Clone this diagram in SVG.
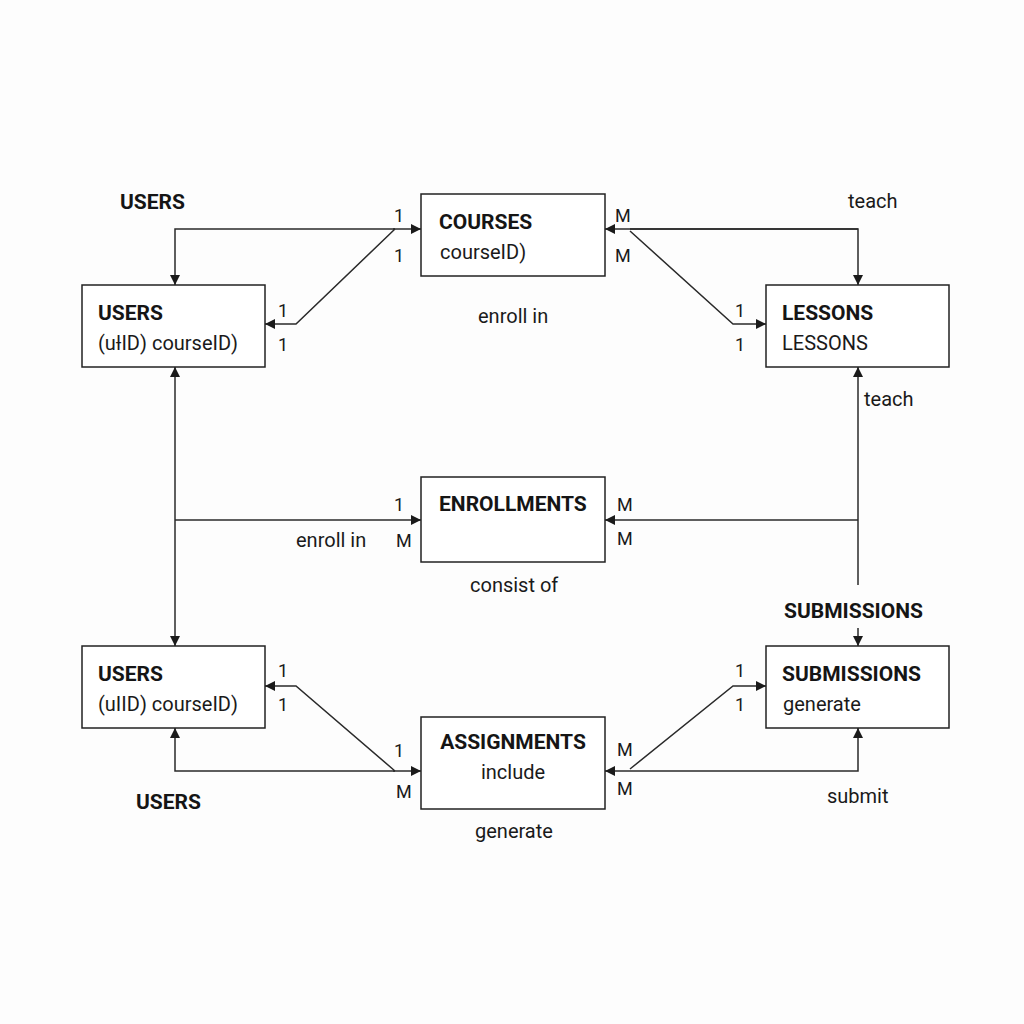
<svg xmlns="http://www.w3.org/2000/svg" width="1024" height="1024" viewBox="0 0 1024 1024">
<defs>
<marker id="ah" viewBox="0 0 10 10" refX="10" refY="5" markerWidth="10" markerHeight="10" markerUnits="userSpaceOnUse" orient="auto"><path d="M0,0 L10,5 L0,10 z" fill="#1a1a1a"/></marker>
<style>
.box{fill:#fff;stroke:#222;stroke-width:1.5}
.t{font-family:Roboto,"Liberation Sans",sans-serif;font-weight:bold;font-size:21px;fill:#151515}
.s{font-family:Roboto,"Liberation Sans",sans-serif;font-size:20px;fill:#1a1a1a}
.c{font-family:Roboto,"Liberation Sans",sans-serif;font-size:18px;fill:#1a1a1a}
.ln{fill:none;stroke:#2a2a2a;stroke-width:1.5}
.ar{fill:none;stroke:#2a2a2a;stroke-width:1.5;marker-end:url(#ah)}
</style>
</defs>
<rect width="1024" height="1024" fill="#fdfdfd"/>
<g id="connectors">
<path class="ar" d="M395,229 L175,229 L175,285"/>
<path class="ar" d="M393,229 L421,229"/>
<path class="ar" d="M395,229 L296,324 L265,324"/>
<path class="ar" d="M858,229 L605,229"/>
<path class="ar" d="M630,229 L858,229 L858,285"/>
<path class="ar" d="M630,231 L733,324 L766,324"/>
<path class="ar" d="M858,585 L858,367"/>
<path class="ar" d="M858,520 L605,520"/>
<path class="ar" d="M175,520 L175,367"/>
<path class="ar" d="M175,520 L175,646"/>
<path class="ar" d="M175,520 L421,520"/>
<path class="ar" d="M858,628 L858,646"/>
<path class="ar" d="M395,771 L175,771 L175,728"/>
<path class="ar" d="M393,771 L421,771"/>
<path class="ar" d="M395,771 L296,686 L265,686"/>
<path class="ar" d="M630,771 L605,771"/>
<path class="ar" d="M630,771 L858,771 L858,728"/>
<path class="ar" d="M630,769 L733,686 L766,686"/>
</g>
<g id="courses"><rect class="box" x="421" y="194" width="184" height="82"/><text class="t" x="439" y="229">COURSES</text><text class="s" x="440" y="259">courseID)</text></g>
<g id="users-top"><rect class="box" x="82" y="285" width="183" height="82"/><text class="t" x="98" y="320">USERS</text><text class="s" x="98" y="350">(uƗID) courseID)</text></g>
<g id="lessons"><rect class="box" x="766" y="285" width="183" height="82"/><text class="t" x="782" y="320">LESSONS</text><text class="s" x="782" y="350">LESSONS</text></g>
<g id="enrollments"><rect class="box" x="421" y="477" width="184" height="85"/><text class="t" x="439" y="511">ENROLLMENTS</text></g>
<g id="users-bottom"><rect class="box" x="82" y="646" width="183" height="82"/><text class="t" x="98" y="681">USERS</text><text class="s" x="98" y="711">(uIID) courseID)</text></g>
<g id="assignments"><rect class="box" x="421" y="717" width="184" height="92"/><text class="t" x="513" y="749" text-anchor="middle">ASSIGNMENTS</text><text class="s" x="513" y="779" text-anchor="middle">include</text></g>
<g id="submissions"><rect class="box" x="766" y="646" width="183" height="82"/><text class="t" x="782" y="681">SUBMISSIONS</text><text class="s" x="783" y="711">generate</text></g>
<g id="labels">
<text class="t" x="120" y="209">USERS</text>
<text class="s" x="848" y="208">teach</text>
<text class="s" x="478" y="323">enroll in</text>
<text class="s" x="864" y="406">teach</text>
<text class="s" x="296" y="547">enroll in</text>
<text class="s" x="470" y="592">consist of</text>
<text class="t" x="784" y="618">SUBMISSIONS</text>
<text class="t" x="136" y="809">USERS</text>
<text class="s" x="475" y="838">generate</text>
<text class="s" x="827" y="803">submit</text>
<text class="c" x="394" y="222">1</text><text class="c" x="394" y="262">1</text>
<text class="c" x="615" y="222">M</text><text class="c" x="615" y="262">M</text>
<text class="c" x="278" y="317">1</text><text class="c" x="278" y="351">1</text>
<text class="c" x="735" y="317">1</text><text class="c" x="735" y="351">1</text>
<text class="c" x="394" y="511">1</text><text class="c" x="396" y="547">M</text>
<text class="c" x="617" y="511">M</text><text class="c" x="617" y="545">M</text>
<text class="c" x="278" y="677">1</text><text class="c" x="278" y="711">1</text>
<text class="c" x="394" y="757">1</text><text class="c" x="396" y="798">M</text>
<text class="c" x="617" y="756">M</text><text class="c" x="617" y="795">M</text>
<text class="c" x="735" y="677">1</text><text class="c" x="735" y="711">1</text>
</g>
</svg>
